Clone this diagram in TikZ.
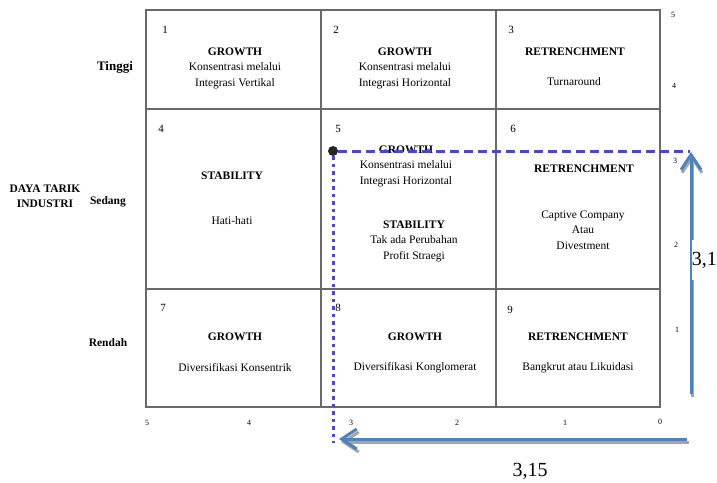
\documentclass[tikz,border=0pt]{standalone}
\usepackage{fontspec}
\setmainfont{Liberation Serif}
\usetikzlibrary{arrows.meta,positioning}
\definecolor{gridgray}{RGB}{105,105,105}
\definecolor{dashblue}{RGB}{72,72,200}
\definecolor{arrowblue}{RGB}{79,129,189}
\definecolor{shadowgray}{RGB}{165,165,165}

\begin{document}
\begin{tikzpicture}[x=1pt,y=-1pt,node distance=0pt,
    cell/.style={draw=gridgray,line width=1.2pt,outer sep=0pt,inner sep=0pt,anchor=north west},
    txt/.style={align=center,inner sep=1pt,font=\fontsize{11.5}{15.5}\selectfont},
    side/.style={align=center,inner sep=1pt,font=\fontsize{11.5}{15}\selectfont\bfseries},
    num/.style={inner sep=1pt,font=\fontsize{11}{13}\selectfont},
    tick/.style={inner sep=1pt,font=\fontsize{8}{10}\selectfont},
    big/.style={inner sep=1pt,font=\fontsize{20}{24}\selectfont},
    barb/.style={-{Straight Barb[length=15pt,width=20pt,line width=3pt]},line width=3pt}]
      \useasboundingbox (0,0) rectangle (717,482);
      \node[cell,minimum width=175pt,minimum height=99pt] (c1) at (146,10) {};
      \node[cell,minimum width=175pt,minimum height=99pt,right=of c1] (c2) {};
      \node[cell,minimum width=164pt,minimum height=99pt,right=of c2] (c3) {};
      \node[cell,minimum width=175pt,minimum height=180pt,below=of c1] (c4) {};
      \node[cell,minimum width=175pt,minimum height=180pt,right=of c4] (c5) {};
      \node[cell,minimum width=164pt,minimum height=180pt,right=of c5] (c6) {};
      \node[cell,minimum width=175pt,minimum height=118pt,below=of c4] (c7) {};
      \node[cell,minimum width=175pt,minimum height=118pt,right=of c7] (c8) {};
      \node[cell,minimum width=164pt,minimum height=118pt,right=of c8] (c9) {};
      \node[num] (n1) at (165,30) {1};
      \node[num] (n2) at (336,30) {2};
      \node[num] (n3) at (511,30) {3};
      \node[num] (n4) at (161,129) {4};
      \node[num] (n5) at (338,129) {5};
      \node[num] (n6) at (513,129) {6};
      \node[num] (n7) at (163,308) {7};
      \node[num] (n8) at (338,308) {8};
      \node[num] (n9) at (510,310) {9};
      \node[txt] (t1) at (235,68) {\textbf{GROWTH}\\Konsentrasi melalui\\Integrasi Vertikal};
      \node[txt] (t2) at (405,68) {\textbf{GROWTH}\\Konsentrasi melalui\\Integrasi Horizontal};
      \node[txt] (t3a) at (575,52) {\textbf{RETRENCHMENT}};
      \node[txt] (t3b) at (574,82) {Turnaround};
      \node[txt] (t4a) at (232,176) {\textbf{STABILITY}};
      \node[txt] (t4b) at (232,221) {Hati-hati};
      \node[txt] (t5a) at (406,166) {\textbf{GROWTH}\\Konsentrasi melalui\\Integrasi Horizontal};
      \node[txt] (t5b) at (414,241) {\textbf{STABILITY}\\Tak ada Perubahan\\Profit Straegi};
      \node[txt] (t6a) at (584,169) {\textbf{RETRENCHMENT}};
      \node[txt] (t6b) at (583,230) {Captive Company\\Atau\\Divestment};
      \node[txt] (t7a) at (235,337) {\textbf{GROWTH}};
      \node[txt] (t7b) at (235,368) {Diversifikasi Konsentrik};
      \node[txt] (t8a) at (415,337) {\textbf{GROWTH}};
      \node[txt] (t8b) at (415,368) {Diversifikasi Konglomerat};
      \node[txt] (t9a) at (578,337) {\textbf{RETRENCHMENT}};
      \node[txt] (t9b) at (578,368) {Bangkrut atau Likuidasi};
      \node[side,font=\fontsize{13}{15}\selectfont\bfseries] (hi) at (115,67) {Tinggi};
      \node[side] (mid) at (108,202) {Sedang};
      \node[side] (lo) at (108,343) {Rendah};
      \node[side] (axis) at (45,196) {DAYA TARIK\\INDUSTRI};
      \node[tick] (b5) at (147,423) {5};
      \node[tick] (b4) at (249,423) {4};
      \node[tick] (b3) at (351,423) {3};
      \node[tick] (b2) at (457,423) {2};
      \node[tick] (b1) at (565,423) {1};
      \node[tick] (b0) at (660,422) {0};
      \node[tick] (r5) at (673,15) {5};
      \node[tick] (r4) at (674,86) {4};
      \node[tick] (r3) at (675,161) {3};
      \node[tick] (r2) at (676,245) {2};
      \node[tick] (r1) at (677,330) {1};
      \node[circle,fill=black!85,minimum size=10pt,inner sep=0pt] (dot) at (333,151) {};
      \coordinate (vend) at (333,443);
      \coordinate (hend) at (690,151);
      \draw[dashblue,line width=3pt,dash pattern=on 3.5pt off 4pt] (dot) -- (vend);
      \draw[dashblue,line width=3pt,dash pattern=on 9pt off 5pt] (dot) -- (hend);
      \coordinate (up0) at (691,394);
      \coordinate (up1) at (691,152);
      \coordinate (lt0) at (687,439);
      \coordinate (lt1) at (339,439);
      \draw[barb,shadowgray] ([shift={(1,3)}]up0) -- ([shift={(1,3)}]up1);
      \draw[barb,arrowblue] (up0) -- (up1);
      \draw[barb,shadowgray] ([shift={(2,3)}]lt0) -- ([shift={(2,3)}]lt1);
      \draw[barb,arrowblue] (lt0) -- (lt1);
      \node[big,fill=white,inner sep=0pt,minimum height=40pt,anchor=east] (vlab) at (717,260) {3,1};
      \node[big] (hlab) at (530,471) {3,15};
    \end{tikzpicture}
\end{document}
